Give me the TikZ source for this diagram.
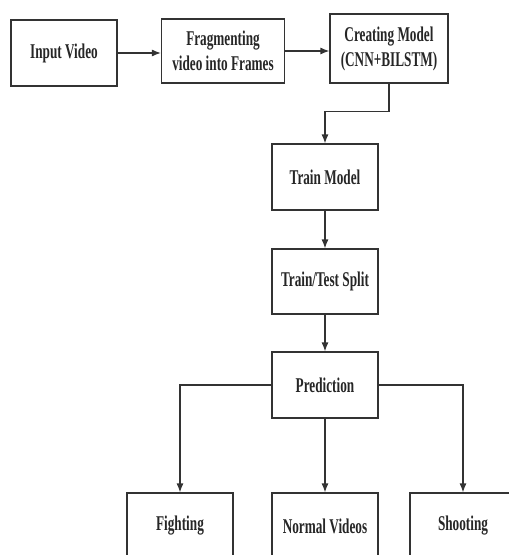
\documentclass[tikz,border=0pt]{standalone}
\usepackage{fontspec}
\setmainfont{Liberation Serif}[FakeStretch=0.63]
\usetikzlibrary{arrows.meta}

\begin{document}
\begin{tikzpicture}[x=1pt,y=-1pt,
	box/.style={draw=black!80,line width=1.2pt,inner sep=0pt,align=center,
		font=\bfseries\fontsize{21}{25}\selectfont,text=black!85},
	flow/.style={draw=black!80,line width=1.2pt,-{Latex[length=9pt,width=7pt]}}]
	\useasboundingbox (0,0) rectangle (509,555);
	\clip (0,0) rectangle (509,555);
	
	% top row
	\node[box,minimum width=106pt,minimum height=66pt] (in) at (64,53) {Input Video};
	\node[box,minimum width=123pt,minimum height=64pt] (frag) at (223,51) {Fragmenting\\video into Frames};
	\node[box,minimum width=118pt,minimum height=69pt] (model) at (389,48.5) {Creating Model\\(CNN+BILSTM)};
	
	% middle column
	\node[box,minimum width=106pt,minimum height=66pt] (train) at (325,177) {Train Model};
	\node[box,minimum width=106pt,minimum height=65pt] (split) at (325,281.5) {Train/Test Split};
	\node[box,minimum width=106pt,minimum height=66pt] (pred) at (325,385) {Prediction};
	
	% classes
	\node[box,minimum width=106pt,minimum height=66pt] (fight) at (180,526) {Fighting};
	\node[box,minimum width=106pt,minimum height=66pt] (normal) at (325,526) {Normal Videos};
	\node[box,minimum width=106pt,minimum height=66pt] (shoot) at (463,526) {Shooting};
	
	\draw[flow] (in.east) -- (in.east -| frag.west);
	\draw[flow] (frag.east) -- (frag.east -| model.west);
	\draw[flow] (model.south) -- ++(0,28) -| (train.north);
	\draw[flow] (train) -- (split);
	\draw[flow] (split) -- (pred);
	
	\draw[flow] (pred.west) -| (fight.north);
	\draw[flow] (pred) -- (normal);
	\draw[flow] (pred.east) -| (shoot.north);
\end{tikzpicture}
\end{document}
